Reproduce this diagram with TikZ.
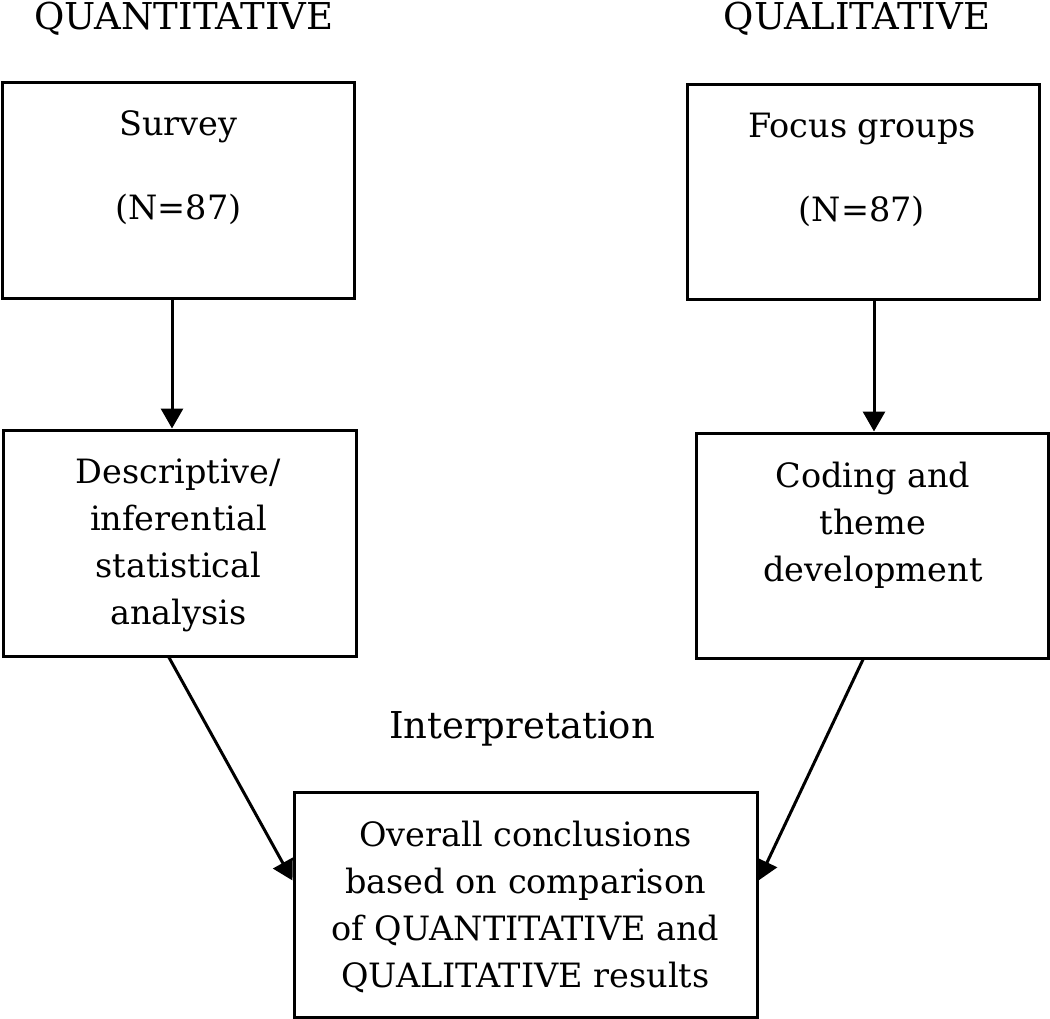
\documentclass[tikz,border=0pt]{standalone}
\usepackage{fontspec}
\setmainfont{DejaVu Serif}
\usetikzlibrary{arrows.meta,calc}
\pgfdeclarelayer{bg}
\pgfsetlayers{bg,main}
\tikzset{
  box/.style={draw=black, line width=3pt, fill=white, inner sep=0pt},
  txt/.style={inner sep=0pt, align=center, anchor=base, font=\fontsize{33.5}{47}\selectfont},
  headtxt/.style={inner sep=0pt, anchor=base, font=\fontsize{37}{42}\selectfont},
  arr/.style={line width=3pt, -{Triangle[length=20pt,width=22pt]}},
}
\begin{document}
\begin{tikzpicture}[x=1pt,y=-1pt]
\useasboundingbox (0,0) rectangle (1050,1019);
% headings
\node[headtxt] (qn) at (184,30) {QUANTITATIVE};
\node[headtxt] (ql) at (857,30) {QUALITATIVE};
% boxes
\node[box, minimum width=352pt, minimum height=215pt] (survey) at (178,190.5) {};
\node[box, minimum width=352pt, minimum height=214pt] (focus) at (863,192) {};
\node[box, minimum width=353pt, minimum height=226pt] (desc) at (179.5,543) {};
\node[box, minimum width=352pt, minimum height=225pt] (coding) at (872,545.5) {};
\node[box, minimum width=463pt, minimum height=225pt] (overall) at (525.5,904.5) {};
% texts (anchor = baseline of the last line)
\node[txt] (surveytxt) at (178.5,220) {Survey\\[37pt](N=87)};
\node[txt] (focustxt) at (862,222) {Focus groups\\[37pt](N=87)};
\node[txt] (desctxt) at (178.5,624) {Descriptive/\\inferential\\statistical\\analysis};
\node[txt] (codingtxt) at (873,581) {Coding and\\theme\\development};
\node[txt, font=\fontsize{37}{42}\selectfont] (interp) at (522,738) {Interpretation};
\node[txt] (overalltxt) at (525.5,987) {Overall conclusions\\based on comparison\\of QUANTITATIVE and\\QUALITATIVE results};
% connectors
\begin{pgfonlayer}{bg}
\draw[arr] ([xshift=-6pt]survey.south) -- ([xshift=-7.5pt]desc.north);
\draw[arr] ([xshift=11pt]focus.south) -- ([xshift=2pt]coding.north);
\draw[arr] ([xshift=-10.5pt]desc.south) -- ([yshift=24pt]overall.west);
\draw[arr] ([xshift=-9pt]coding.south) -- ([yshift=24pt]overall.east);
\end{pgfonlayer}
\end{tikzpicture}
\end{document}
